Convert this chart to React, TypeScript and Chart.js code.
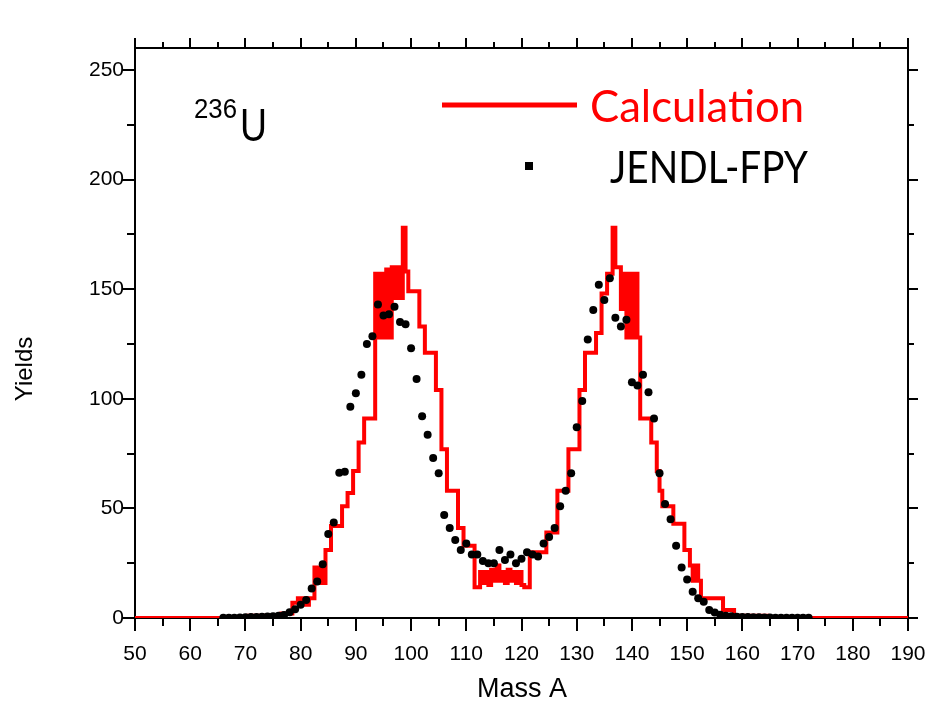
import React, { useEffect, useRef } from "react";
import { Chart, registerables } from "chart.js";

Chart.register(...registerables);

// ---------------- data ----------------
const massMin = 50;
const massMax = 190;
const yieldMax = 260;
const xMajorStep = 10;
const xMinorStep = 5;
const yMajorStep = 50;
const yMinorStep = 25;
const yTickValues = [0, 50, 100, 150, 200, 250];

// Calculation (step histogram), one value per mass number from calcFirstMass.
// calcHigh = upper level, calcLow = lower level where the calculation oscillates (null = same).
const calcFirstMass = 66;
const calcHigh = [
  0, 0, 0, 0, 0, // 66-70
  1, 1, 1, 1, 1, 1, // 71-76
  2, 2, // 77-78
  7, 9, 9, 9, // 79-82
  23, 23, // 83-84
  31, 42, 42, 51, 57, 67, 80, 91, 91, // 85-93
  157, 157, 159, 160, 160, 178, // 94-99
  149, 149, 133, 121, 121, 104, 77, 58, 58, 41, 33, 33, 14, // 100-112
  21, 21, 22, 24, 21, 22, 21, 21, // 113-120
  14, 30, 30, 30, 39, 39, 58, 58, 77, 77, // 121-130
  104, 121, 121, 130, 148, 157, 178, // 131-137
  160, 157, 157, 157, // 138-141
  91, 91, 80, 67, 51, 51, 43, 43, 31, 24, 24, // 142-152
  9, 9, 9, 9, 3.6, 3.6, // 153-158
  1, 1, 1, 1, 1, 1, 0, 0, // 159-166
];
const calcLow: (number | null)[] = [
  null, null, null, null, null, // 66-70
  null, null, null, null, null, null, // 71-76
  null, null, // 77-78
  null, 6, 6, null, // 79-82
  16, 16, // 83-84
  null, null, null, null, null, null, null, null, null, // 85-93
  128, 128, 128, 146, 146, 158, // 94-99
  null, null, null, null, null, null, null, null, null, null, null, null, null, // 100-112
  16, 15, 17, 17, 16, 17, 16, 15, // 113-120
  null, null, null, null, null, null, null, null, null, null, // 121-130
  null, null, null, null, null, null, 160, // 131-137
  141, 128, 128, 128, // 138-141
  null, null, null, 58, null, null, null, null, null, 17, 17, // 142-152
  null, null, null, null, null, null, // 153-158
  null, null, null, null, null, null, null, null, // 159-166
];

// JENDL-FPY evaluated yields, one value per mass number from jendlFirstMass.
const jendlFirstMass = 66;
const jendlYields = [
  0.1, 0.1, 0.1, 0.2, 0.3, 0.4, 0.5, 0.6, 0.7, 0.8, 1.0, // 66-76
  1.4, 2.6, 4, 6, 8.2, 13.5, 16.6, 24.5, 38.3, 43.6, 66.3, 66.7, 96.4, 102.5, // 77-90
  111, 125, 128.5, 143, 138, 138.5, 142, 135, 134, 123, 109, 92, 83.6, 73, 66, // 91-105
  47, 41, 35.6, 31, 34, 29, 29, 26, 25, 25, 31, 26.5, 29, 25, 27, // 106-120
  30, 29, 28, 34, 37, 41, 51, 58, 66, 87, 99, 127, 140.5, 152, 145, // 121-135
  155, 137, 133, 136, 107.5, 106, 111, 103, 91, 66, 52, 45, 33, 23, 17.6, // 136-150
  12, 9, 7.4, 3.6, 2.5, 1.5, 1.0, 0.8, 0.6, 0.5, 0.4, 0.3, 0.3, 0.2, 0.2, 0.1, 0.1, 0.1, 0.1, 0.1, 0.1, 0.1, // 151-172
];

const legendCalc = "Calculation";
const legendJendl = "JENDL-FPY";
const nuclideMass = "236";
const nuclideSymbol = "U";
const xTitle = "Mass A";
const yTitle = "Yields";

// ---------------- helpers ----------------
const RED = "#ff0000";
const TICK_FONT = "'Liberation Sans', Arial, sans-serif";
const LEGEND_FONT = "Lato, 'Open Sans', sans-serif";

function buildCalcPoints() {
  const pts: { x: number; y: number }[] = [{ x: massMin, y: 0 }];
  calcHigh.forEach((hi, i) => {
    const m = calcFirstMass + i;
    const lo = calcLow[i] ?? hi;
    pts.push({ x: m - 0.25, y: hi }, { x: m + 0.25, y: lo });
  });
  pts.push({ x: massMax, y: 0 });
  return pts;
}

function buildJendlPoints() {
  return jendlYields.map((v, i) => ({ x: jendlFirstMass + i, y: v }));
}

function fitText(ctx: CanvasRenderingContext2D, text: string, x: number, y: number, width: number) {
  const w = ctx.measureText(text).width;
  ctx.save();
  ctx.translate(x, y);
  ctx.scale(width / w, 1);
  ctx.fillText(text, 0, 0);
  ctx.restore();
}

const frameTicksPlugin = {
  id: "frameTicks",
  beforeDatasetsDraw(chart: any) {
    const { ctx, chartArea, scales } = chart;
    const { left, right, top, bottom } = chartArea;
    const xs = scales.x;
    const ys = scales.y;
    ctx.save();
    ctx.strokeStyle = "#000";
    ctx.lineWidth = 2;
    ctx.strokeRect(left, top, right - left, bottom - top);
    ctx.beginPath();
    for (let v = massMin; v <= massMax; v += xMinorStep) {
      const px = Math.round(xs.getPixelForValue(v));
      const major = v % xMajorStep === 0;
      ctx.moveTo(px, bottom);
      ctx.lineTo(px, bottom + (major ? 13 : 8));
      ctx.moveTo(px, top);
      ctx.lineTo(px, top - (major ? 10 : 6));
    }
    for (let v = 0; v <= yieldMax; v += yMinorStep) {
      const py = Math.round(ys.getPixelForValue(v));
      const major = v % yMajorStep === 0;
      ctx.moveTo(left, py);
      ctx.lineTo(left - (major ? 13 : 8), py);
      ctx.moveTo(right, py);
      ctx.lineTo(right + (major ? 10 : 6), py);
    }
    ctx.stroke();
    ctx.restore();
  },
  afterDraw(chart: any) {
    const { ctx } = chart;
    ctx.save();
    ctx.fillStyle = "#000";
    ctx.textBaseline = "alphabetic";
    ctx.textAlign = "left";
    // nuclide label
    ctx.font = `28px ${TICK_FONT}`;
    fitText(ctx, nuclideMass, 194, 118, 43);
    ctx.font = `46px ${TICK_FONT}`;
    fitText(ctx, nuclideSymbol, 240, 141, 27);
    // legend
    ctx.strokeStyle = RED;
    ctx.lineWidth = 5;
    ctx.beginPath();
    ctx.moveTo(442, 105);
    ctx.lineTo(577, 105);
    ctx.stroke();
    ctx.fillStyle = RED;
    ctx.font = `44px ${LEGEND_FONT}`;
    fitText(ctx, legendCalc, 590, 122, 214);
    ctx.fillStyle = "#000";
    ctx.fillRect(525, 162, 8, 8);
    ctx.font = `44px ${LEGEND_FONT}`;
    fitText(ctx, legendJendl, 610, 183, 198);
    // axis titles
    ctx.textAlign = "center";
    ctx.textBaseline = "middle";
    ctx.font = `27px ${TICK_FONT}`;
    ctx.fillText(xTitle, 522, 690);
    ctx.font = `24px ${TICK_FONT}`;
    ctx.translate(25, 369);
    ctx.rotate(-Math.PI / 2);
    ctx.fillText(yTitle, 0, 0);
    ctx.restore();
  },
};

export default function App() {
  const canvasRef = useRef<HTMLCanvasElement | null>(null);

  useEffect(() => {
    const canvas = canvasRef.current;
    if (!canvas) return;
    const chart = new Chart(canvas, {
      type: "scatter",
      data: {
        datasets: [
          {
            label: legendJendl,
            data: buildJendlPoints(),
            showLine: false,
            pointRadius: 4,
            pointHoverRadius: 4,
            pointBackgroundColor: "#000",
            pointBorderWidth: 0,
            borderWidth: 0,
            order: 0,
            clip: { left: 10, right: 10, top: 10, bottom: 0 },
          } as any,
          {
            type: "line",
            label: legendCalc,
            data: buildCalcPoints(),
            borderColor: RED,
            borderWidth: 4,
            stepped: "middle",
            pointRadius: 0,
            fill: false,
            order: 1,
            borderJoinStyle: "miter",
          } as any,
        ],
      },
      options: {
        animation: false,
        responsive: false,
        devicePixelRatio: 1,
        layout: { padding: { top: 48, right: 18, left: 0, bottom: 0 } },
        plugins: { legend: { display: false }, tooltip: { enabled: false } },
        events: [],
        scales: {
          x: {
            type: "linear",
            min: massMin,
            max: massMax,
            grid: { display: false, drawTicks: true, tickLength: 8 },
            border: { display: false },
            ticks: {
              stepSize: xMajorStep,
              color: "#000",
              font: { family: TICK_FONT, size: 21 },
              padding: 16,
              maxRotation: 0,
              autoSkip: false,
            },
            afterFit: (s: any) => {
              s.height = 88;
              s.paddingLeft = 0;
              s.paddingRight = 0;
            },
          },
          y: {
            type: "linear",
            min: 0,
            max: yieldMax,
            grid: { display: false, drawTicks: true, tickLength: 8 },
            border: { display: false },
            ticks: {
              stepSize: yMajorStep,
              color: "#000",
              font: { family: TICK_FONT, size: 21 },
              padding: 3,
            },
            afterBuildTicks: (s: any) => {
              s.ticks = yTickValues.map((v) => ({ value: v }));
            },
            afterFit: (s: any) => {
              s.width = 135;
              s.paddingTop = 0;
              s.paddingBottom = 0;
            },
          },
        },
      },
      plugins: [frameTicksPlugin],
    });
    return () => chart.destroy();
  }, []);

  return (
    <div style={{ position: "absolute", left: 0, top: 0, width: 926, height: 706, background: "#fff" }}>
      <canvas ref={canvasRef} width={926} height={706} />
    </div>
  );
}
